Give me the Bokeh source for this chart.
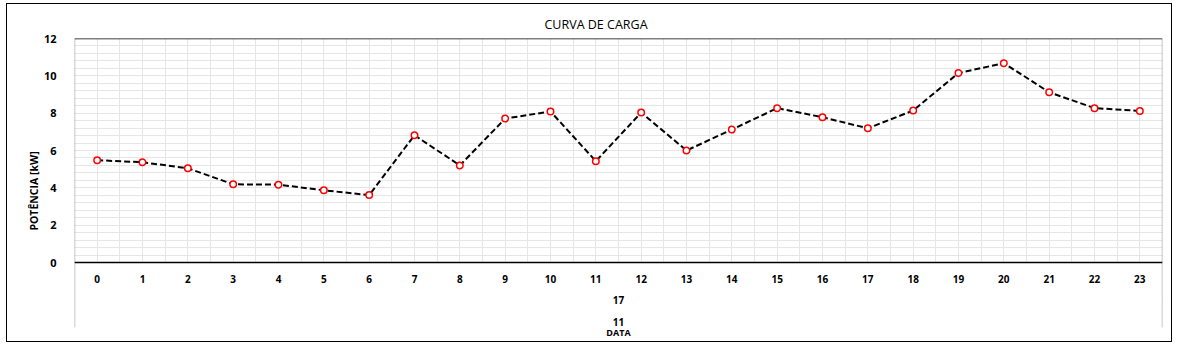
import numpy as np
from bokeh.plotting import figure
from bokeh.models import (LinearAxis, FixedTicker, Grid, Span, BoxAnnotation,
                          Range1d, ColumnDataSource)
from bokeh.embed import file_html
from bokeh.resources import INLINE

# ---- data ----
hours = list(range(24))
power_kw = [5.48, 5.37, 5.05, 4.19, 4.17, 3.87, 3.61, 6.82, 5.20, 7.71, 8.09, 5.43,
            8.03, 6.00, 7.12, 8.27, 7.78, 7.19, 8.14, 10.15, 10.68, 9.12, 8.27, 8.12]
day_labels = ["17"]
month_labels = ["11"]
y_ticks = [0, 2, 4, 6, 8, 10, 12]
title_text = "CURVA DE CARGA"
y_title = "POTÊNCIA [kW]"
x_title = "DATA"

FONT = "Open Sans"
PX = 224 / 12            # pixels per kW in the plot area
YMIN = -81 / PX          # frame extends below zero for the category levels
YLINE = -65 / PX         # end of the vertical separators

p = figure(width=1166, height=339, output_backend="svg", toolbar_location=None,
           x_axis_location=None, y_axis_location=None,
           x_range=Range1d(-0.5, 23.5), y_range=Range1d(YMIN, 12),
           min_border_left=67, min_border_right=11, min_border_top=34, min_border_bottom=0)
p.styles = {"margin-left": "6px", "margin-top": "3px", "border": "1px solid black"}
p.outline_line_color = None
p.background_fill_color = "white"
p.border_fill_color = "white"

# title
p.title.text = title_text
p.title.text_font = FONT
p.title.text_font_size = "12.5px"
p.title.text_font_style = "normal"
p.title.text_color = "black"
p.title.align = "left"
p.title.offset = 470
p.title.standoff = 10
p.title.vertical_align = "middle"

# grids
minor_x = [h + 0.5 for h in hours[:-1]]
minor_y = [v for v in np.round(np.arange(0, 12.01, 0.4), 2) if v not in y_ticks]
xticker_grid = FixedTicker(ticks=hours, minor_ticks=minor_x)
yticker = FixedTicker(ticks=y_ticks, minor_ticks=minor_y)
gx = Grid(dimension=0, ticker=xticker_grid, grid_line_color="#e6e6e6", grid_line_width=1,
          minor_grid_line_color="#e6e6e6", minor_grid_line_width=1)
gy = Grid(dimension=1, ticker=yticker, grid_line_color="#e6e6e6", grid_line_width=1,
          minor_grid_line_color="#e6e6e6", minor_grid_line_width=1)
p.add_layout(gx)
p.add_layout(gy)

# white area below zero (category label area)
p.add_layout(BoxAnnotation(top=0, fill_color="white", fill_alpha=1, line_color=None, level="underlay"))

# y axis
yax = LinearAxis(ticker=FixedTicker(ticks=y_ticks), axis_label=y_title)
yax.axis_line_color = None
yax.major_tick_line_color = None
yax.minor_tick_line_color = None
yax.major_label_text_font = FONT
yax.major_label_text_font_style = "bold"
yax.major_label_text_font_size = "11px"
yax.major_label_text_color = "black"
yax.major_label_standoff = 12
yax.axis_label_text_font = FONT
yax.axis_label_text_font_style = "bold"
yax.axis_label_text_font_size = "10.5px"
yax.axis_label_text_color = "black"
yax.axis_label_standoff = 0
p.add_layout(yax, "left")


def level_axis(ticks, loc, overrides=None, label=None):
    ax = LinearAxis(ticker=FixedTicker(ticks=ticks), fixed_location=loc)
    if overrides:
        ax.major_label_overrides = overrides
    ax.axis_line_color = None
    ax.major_tick_line_color = None
    ax.minor_tick_line_color = None
    ax.major_label_text_font = FONT
    ax.major_label_text_font_style = "bold"
    ax.major_label_text_font_size = "10px"
    ax.major_label_text_color = "black"
    ax.major_label_standoff = 6
    if label:
        ax.axis_label = label
        ax.axis_label_text_font = FONT
        ax.axis_label_text_font_style = "bold"
        ax.axis_label_text_font_size = "9px"
        ax.axis_label_text_color = "black"
        ax.axis_label_standoff = -4
    return ax


# x axis (hours)
xax = level_axis(hours, 0)
xax.axis_line_color = "black"
xax.axis_line_width = 1.5
p.add_layout(xax, "below")

mid = (hours[0] + hours[-1]) / 2
p.add_layout(level_axis([mid], -21.5 / PX, {mid: day_labels[0]}), "below")
p.add_layout(level_axis([mid], -43.5 / PX, {mid: month_labels[0]}, x_title), "below")

# plot-area borders: top line and the two side separators
p.add_layout(Span(location=12, dimension="width", line_color="black", line_width=1.5))
for xv in (-0.5, 23.5):
    p.add_layout(BoxAnnotation(left=xv, right=xv, bottom=YLINE, top=12,
                               fill_alpha=0, line_color="black", line_width=1.5))

# data
src = ColumnDataSource(dict(h=hours, kw=power_kw))
p.line("h", "kw", source=src, line_color="black", line_width=2, line_dash="6 3")
p.scatter("h", "kw", source=src, size=6.5, marker="circle", fill_color="white",
          line_color="red", line_width=1.5)

open("out.html", "w").write(file_html(p, INLINE))
